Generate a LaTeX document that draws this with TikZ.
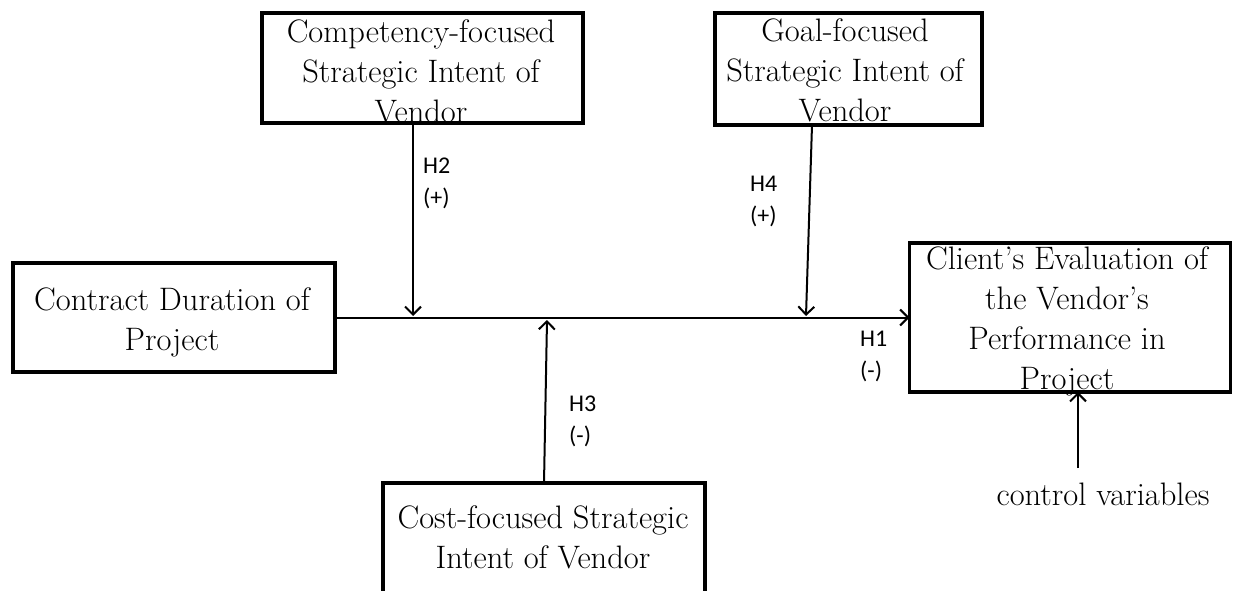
\documentclass[tikz,border=0pt]{standalone}
\usepackage{fontspec}
\newfontfamily\labfont{Carlito}
\usetikzlibrary{arrows.meta}
\begin{document}
\begin{tikzpicture}[x=1pt,y=-1pt,
  box/.style={draw,line width=3.5pt,rectangle,inner sep=0pt,outer sep=0pt},
  boxtext/.style={align=center,font=\fontsize{32.5}{40}\selectfont,inner sep=0pt},
  hlab/.style={align=left,anchor=west,font=\labfont\fontsize{24}{32}\selectfont,inner sep=0pt},
  arr/.style={line width=2pt,-{Straight Barb[length=8pt,width=16pt,line width=2pt]}}]
\clip (0,0) rectangle (1233,591);
% boxes
\node[box,minimum width=321pt,minimum height=110pt] (comp) at (422.5,68) {};
\node[box,minimum width=267pt,minimum height=112pt] (goal) at (848.5,69) {};
\node[box,minimum width=322pt,minimum height=109pt] (contract) at (174,317.5) {};
\node[box,minimum width=321pt,minimum height=149pt] (client) at (1070,317.5) {};
\node[box,minimum width=322pt,minimum height=117pt] (cost) at (544,541.5) {};
% box texts
\node[boxtext] (compt) at (421,71) {Competency-focused\\Strategic Intent of\\Vendor};
\node[boxtext] (goalt) at (845,70) {Goal-focused\\Strategic Intent of\\Vendor};
\node[boxtext] (contractt) at (172,322) {Contract Duration of\\Project};
\node[boxtext] (clientt) at (1067,321) {Client’s Evaluation of\\the Vendor’s\\Performance in\\Project};
\node[boxtext] (costt) at (543,537) {Cost-focused Strategic\\Intent of Vendor};
\node[boxtext] (ctrl) at (1103,494) {control variables};
% coordinates on the main line
\coordinate (m2) at (413,316);
\coordinate (m4) at (806,316);
\coordinate (m3) at (547,320);
\coordinate (g4) at (812,125);
\coordinate (c5) at (1078,468);
% connectors
\draw[arr] (contract.east) -- (client.west);
\draw[arr] (comp.south -| m2) -- (m2);
\draw[arr] (g4) -- (m4);
\draw[arr] (cost.north) -- (m3);
\draw[arr] (c5) -- (client.south -| c5);
% labels
\node[hlab] (h2) at (423,183) {H2\\(+)};
\node[hlab] (h4) at (750,201) {H4\\(+)};
\node[hlab] (h1) at (860,356) {H1\\(-)};
\node[hlab] (h3) at (569,421) {H3\\(-)};
\end{tikzpicture}
\end{document}
